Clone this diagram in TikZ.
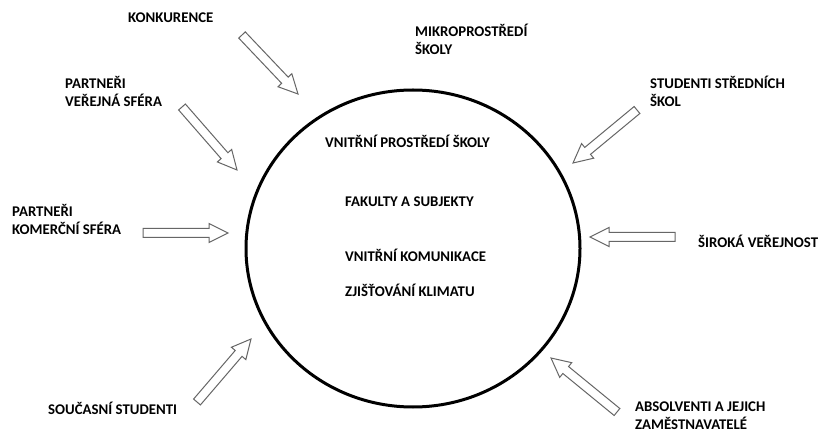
\documentclass[tikz,border=0pt]{standalone}
\usepackage{fontspec}
\setmainfont{Carlito}
\usetikzlibrary{calc}
\tikzset{
  lbl/.style={font=\bfseries\fontsize{14.8}{18}\selectfont, inner sep=0pt, align=left, anchor=base west, text=black},
  blockarrow/.style={draw=black!60, line width=1pt, fill=white, line join=miter},
  ring/.style={draw=black, line width=3pt}
}
\newcommand{\barrow}[3]{%
  \coordinate (#1-t) at (#2);
  \coordinate (#1-h) at (#3);
  \coordinate (#1-b) at ($(#1-h)!19pt!(#1-t)$);
  \draw[blockarrow] ($(#1-t)!4.5pt!90:(#1-h)$) -- ($(#1-b)!4.5pt!90:(#1-h)$) -- ($(#1-b)!9.5pt!90:(#1-h)$) -- (#1-h) -- ($(#1-b)!9.5pt!-90:(#1-h)$) -- ($(#1-b)!4.5pt!-90:(#1-h)$) -- ($(#1-t)!4.5pt!-90:(#1-h)$) -- cycle;}
\begin{document}
\begin{tikzpicture}[x=1pt,y=1pt]
\fill[white] (0,0) rectangle (819,434);
\useasboundingbox (0,0) rectangle (819,434);
% central circle
\draw[ring] (413,185.5) ellipse [x radius=167, y radius=158.5];
\node[lbl] (vps) at (325,286.5) {VNITŘNÍ PROSTŘEDÍ ŠKOLY};
\node[lbl] (fas) at (345,227.5) {FAKULTY A SUBJEKTY};
\node[lbl] (vk) at (345,172.5) {VNITŘNÍ KOMUNIKACE};
\node[lbl] (zk) at (345,137.5) {ZJIŠŤOVÁNÍ KLIMATU};
% outer labels (base = last line)
\node[lbl] (konk) at (128,411.5) {KONKURENCE};
\node[lbl] (mikro) at (415,379) {MIKROPROSTŘEDÍ\\ŠKOLY};
\node[lbl] (pvs) at (65,327) {PARTNEŘI\\VEŘEJNÁ SFÉRA};
\node[lbl] (pks) at (12,199) {PARTNEŘI\\KOMERČNÍ SFÉRA};
\node[lbl] (sss) at (650,327) {STUDENTI STŘEDNÍCH\\ŠKOL};
\node[lbl] (sv) at (698,186.5) {ŠIROKÁ VEŘEJNOST};
\node[lbl] (ss) at (48,19.5) {SOUČASNÍ STUDENTI};
\node[lbl] (abs) at (635,5) {ABSOLVENTI A JEJICH\\ZAMĚSTNAVATELÉ};
% block arrows
\barrow{a1}{242,399}{298,340}
\barrow{a2}{182,327}{237,264}
\barrow{a3}{143,201}{228,201}
\barrow{a4}{637,324}{573,271}
\barrow{a5}{675,197}{590,197}
\barrow{a6}{197,32}{251,95}
\barrow{a7}{617,22}{551,76}
\end{tikzpicture}
\end{document}
